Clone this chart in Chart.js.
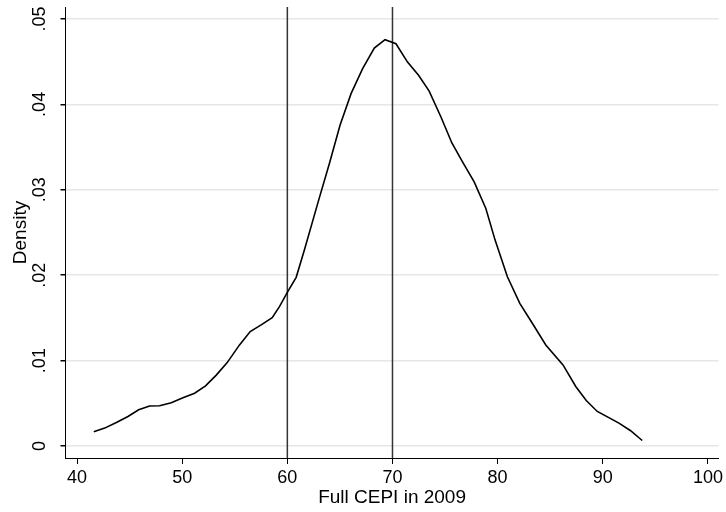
<!DOCTYPE html>
<html>
<head>
<meta charset="utf-8">
<script src="https://cdn.jsdelivr.net/npm/chart.js@4/dist/chart.umd.min.js"></script>
<style>
  body { margin: 0; background: #fff; }
  canvas { display: block; }
</style>
</head>
<body>
<canvas id="density-chart" width="726" height="512"></canvas>
<script>
const xValues = [
  41.59, 42.63, 43.74, 44.84, 45.86, 46.9, 47.85, 48.96, 50.07, 51.18,
  52.22, 53.24, 54.28, 55.45, 56.47, 57.51, 58.56, 59.25, 60.04, 60.84,
  61.62, 62.98, 64.0, 65.01, 66.06, 67.16, 68.27, 69.29, 70.33, 71.43,
  72.48, 73.49, 74.61, 75.65, 76.66, 77.77, 78.88, 79.76, 80.93, 82.11,
  83.3, 84.58, 86.22, 87.43, 88.43, 89.48, 91.54, 92.65, 93.75,
];
const densityValues = [
  0.00167, 0.0021, 0.00276, 0.00346, 0.00424, 0.00468, 0.00471, 0.00506, 0.00565, 0.00619,
  0.00705, 0.0083, 0.00977, 0.01184, 0.0134, 0.01418, 0.01503, 0.01632, 0.01807, 0.01975,
  0.02294, 0.02879, 0.03308, 0.03755, 0.04126, 0.04418, 0.04659, 0.04757, 0.0471, 0.04495,
  0.0434, 0.04156, 0.03852, 0.03548, 0.03326, 0.03093, 0.02782, 0.02411, 0.01982, 0.01671,
  0.01438, 0.01184, 0.0095, 0.00697, 0.00533, 0.00405, 0.00269, 0.00179, 0.00065,
];
const xTicks = [40, 50, 60, 70, 80, 90, 100];
const yTicks = [0, 0.01, 0.02, 0.03, 0.04, 0.05];
const yTickLabels = ["0", ".01", ".02", ".03", ".04", ".05"];
const refLines = [60, 70];

const FONT = '"Liberation Sans", Arial, sans-serif';

// y tick labels are rotated, drawn here; vertical reference lines too
const extrasPlugin = {
  id: "extras",
  beforeDatasetsDraw(chart) {
    const { ctx, chartArea, scales } = chart;
    ctx.save();
    ctx.strokeStyle = "#333";
    ctx.lineWidth = 1.5;
    refLines.forEach((v) => {
      const px = scales.x.getPixelForValue(v);
      ctx.beginPath();
      ctx.moveTo(px, chartArea.top);
      ctx.lineTo(px, chartArea.bottom);
      ctx.stroke();
    });
    ctx.restore();
  },
  afterDraw(chart) {
    const { ctx, scales } = chart;
    ctx.save();
    ctx.fillStyle = "#000";
    ctx.font = "18px " + FONT;
    ctx.textAlign = "center";
    ctx.textBaseline = "middle";
    yTicks.forEach((v, i) => {
      const py = scales.y.getPixelForValue(v);
      ctx.save();
      ctx.translate(40, py);
      ctx.rotate(-Math.PI / 2);
      ctx.fillText(yTickLabels[i], 0, 0);
      ctx.restore();
    });
    ctx.restore();
  },
};

function main() {
  const canvas = document.querySelector("#density-chart");
  const points = xValues.map((x, i) => ({ x: x, y: densityValues[i] }));

  new Chart(canvas, {
    type: "line",
    data: {
      datasets: [
        {
          data: points,
          borderColor: "#000",
          borderWidth: 1.6,
          pointRadius: 0,
          fill: false,
          tension: 0,
        },
      ],
    },
    options: {
      responsive: false,
      animation: false,
      layout: { padding: { top: 7, right: 5, left: 0, bottom: 0 } },
      plugins: {
        legend: { display: false },
        tooltip: { enabled: false },
      },
      scales: {
        x: {
          type: "linear",
          min: 38.9,
          max: 101.02,
          afterBuildTicks: (scale) => {
            scale.ticks = xTicks.map((v) => ({ value: v }));
          },
          afterFit: (scale) => {
            scale.height = 54;
          },
          grid: {
            drawOnChartArea: false,
            drawTicks: true,
            tickLength: 6,
            tickColor: "#000",
          },
          border: { display: true, color: "#000", width: 1 },
          ticks: {
            color: "#000",
            font: { family: FONT, size: 18 },
            padding: 3,
            maxRotation: 0,
            autoSkip: false,
          },
          title: {
            display: true,
            text: "Full CEPI in 2009",
            color: "#000",
            font: { family: FONT, size: 19 },
            padding: { top: 0, bottom: 3 },
          },
        },
        y: {
          min: -0.0014,
          max: 0.0514,
          afterBuildTicks: (scale) => {
            scale.ticks = yTicks.map((v) => ({ value: v }));
          },
          afterFit: (scale) => {
            scale.width = 65.5;
          },
          grid: {
            color: "#e6e6e6",
            lineWidth: 1.5,
            drawTicks: true,
            tickLength: 5,
            tickColor: "#000",
          },
          border: { display: true, color: "#000", width: 1 },
          ticks: { display: false },
          title: {
            display: true,
            text: "Density",
            color: "#000",
            font: { family: FONT, size: 19 },
            padding: { top: 9, bottom: 0 },
          },
        },
      },
    },
    plugins: [extrasPlugin],
  });
}

main();
</script>
</body>
</html>
